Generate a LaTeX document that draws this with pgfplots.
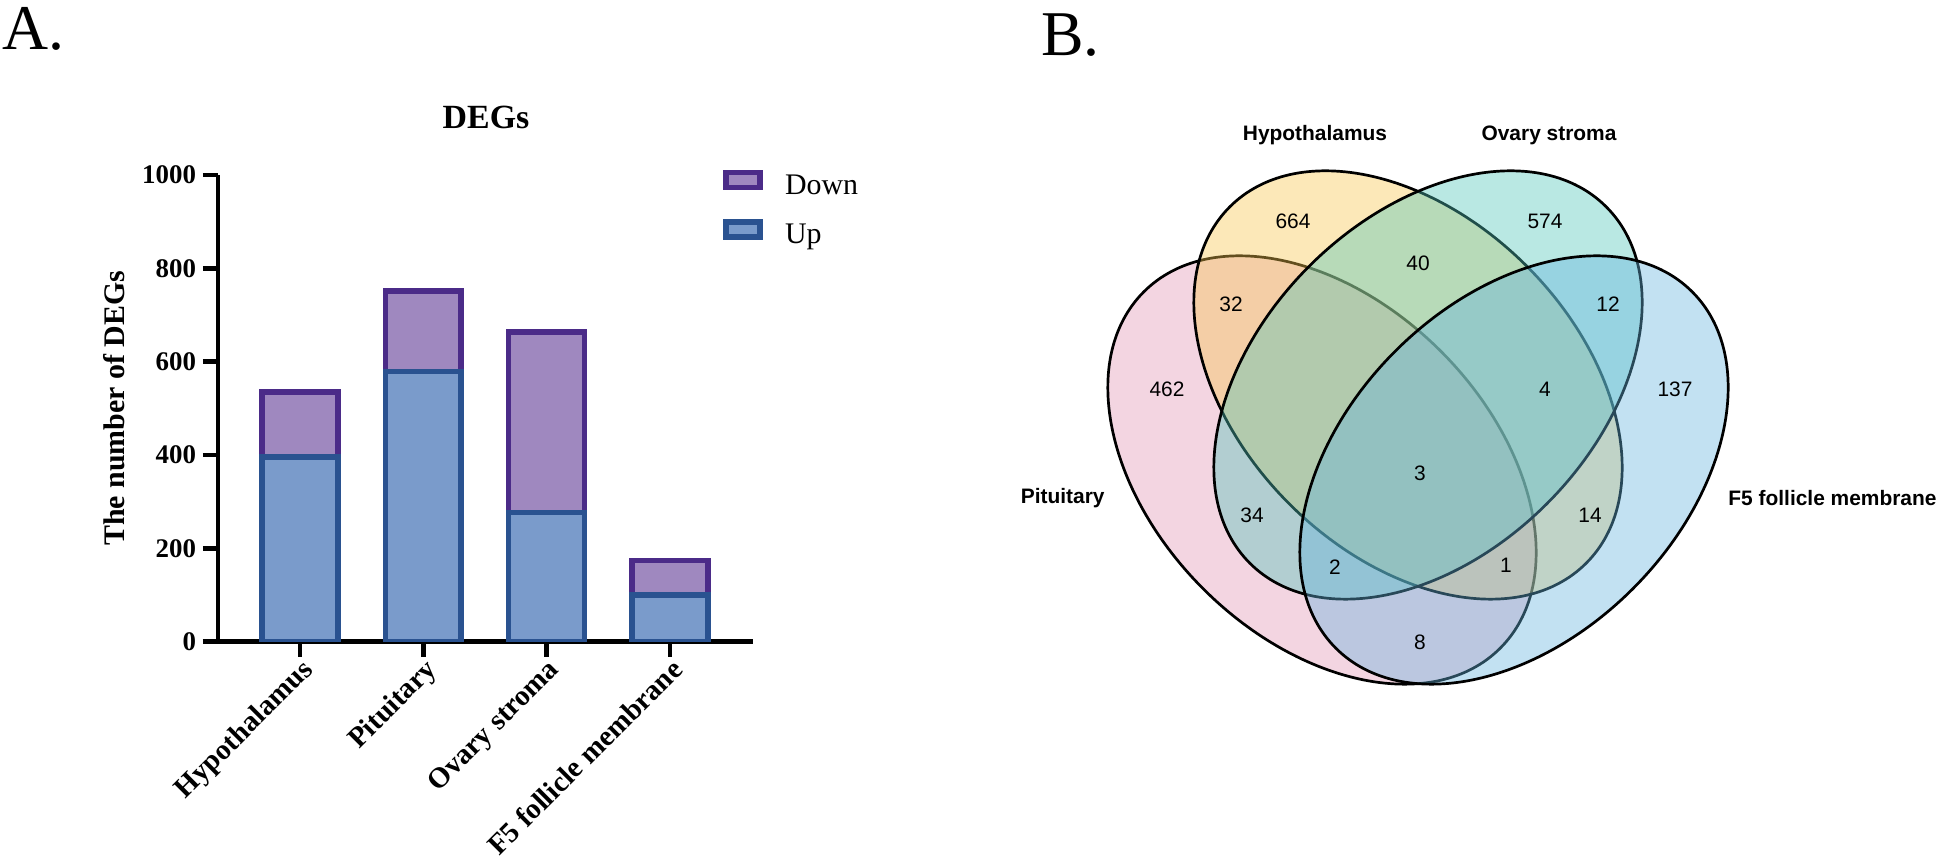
\documentclass[border=0pt]{standalone}
\usepackage{pgfplots}
\pgfplotsset{compat=1.18}
\usepackage{fontspec}
\setmainfont{Liberation Serif}
\newfontfamily\arial{Liberation Sans}
\definecolor{upfill}{HTML}{7A9BCB}
\definecolor{updraw}{HTML}{2A5290}
\definecolor{dnfill}{HTML}{9F88BF}
\definecolor{dndraw}{HTML}{4B2B88}
\definecolor{vpink}{RGB}{225,150,180}
\definecolor{vyellow}{RGB}{247,197,77}
\definecolor{vteal}{RGB}{80,197,185}
\definecolor{vblue}{RGB}{102,180,222}
\begin{document}
\begin{tikzpicture}
\path[use as bounding box] (0,0) rectangle (972bp,433bp);
\node[anchor=base west, inner sep=0pt, font=\fontsize{32}{38}\selectfont] at (1bp,408bp) {A.};
\node[anchor=base west, inner sep=0pt, font=\fontsize{32}{38}\selectfont] at (520.5bp,405bp) {B.};
\begin{axis}[
  at={(109bp,112.15bp)}, anchor=south west,
  width=267.5bp, height=233.35bp, scale only axis,
  xmin=-0.665, xmax=3.674, ymin=0, ymax=1000,
  axis x line*=bottom, axis y line*=left,
  axis line style={line width=2.35bp, black},
  x axis line style={shorten <=-7.5bp},
  tick align=outside, major tick length=7.5bp,
  every tick/.style={black, line width=2.35bp},
  xtick={0,1,2,3},
  xticklabels={Hypothalamus,Pituitary,Ovary stroma,F5 follicle membrane},
  ytick={0,200,400,600,800,1000},
  /pgf/number format/assume math mode=true,
  /pgf/number format/1000 sep={},
  yticklabel style={font=\fontsize{13.5}{16}\selectfont\bfseries},
  xticklabel style={font=\fontsize{14.5}{16}\selectfont\bfseries, rotate=45, anchor=north east, inner sep=0pt},
  ylabel={The number of DEGs},
  ylabel style={font=\fontsize{15}{18}\selectfont\bfseries, at={(axis description cs:-0.1935,0.5)}, anchor=center},
  title={DEGs},
  title style={font=\fontsize{17}{20}\selectfont\bfseries, at={(axis description cs:0.501,1)}, anchor=center, yshift=23bp},
  ybar, bar width=0.616,
  legend style={at={(axis description cs:0.944,1.012)}, anchor=north west, draw=none, fill=none, inner sep=0pt, row sep=9.5bp, column sep=11bp, font=\fontsize{15}{18}\selectfont, nodes={inner sep=0pt, text height=10bp, text depth=3bp}},
  legend cell align=left,
  legend image code/.code={\draw[#1, line width=2.8bp] (0bp,-0.25bp) rectangle (17bp,7.25bp);},
]
\addplot[bar shift=0pt, fill=dnfill, draw=dndraw, line width=2.8bp] coordinates {(0,535) (1,751) (2,664) (3,174)};
\addplot[bar shift=0pt, fill=upfill, draw=updraw, line width=2.8bp] coordinates {(0,396) (1,579) (2,277) (3,100)};
\legend{Down,Up}
\end{axis}
\begin{axis}[at={(500bp,0bp)}, anchor=south west, width=472bp, height=433bp, scale only axis,
  xmin=1000, xmax=1944, ymin=0, ymax=866, hide axis, clip=false]
\draw[fill=vpink, fill opacity=0.4, draw=black, line width=1.35bp] (axis cs:1322,396) ellipse [x radius=126bp, y radius=84bp, rotate=-45];
\draw[fill=vyellow, fill opacity=0.4, draw=black, line width=1.35bp] (axis cs:1408,481) ellipse [x radius=126bp, y radius=84bp, rotate=-45];
\draw[fill=vteal, fill opacity=0.4, draw=black, line width=1.35bp] (axis cs:1428,481) ellipse [x radius=126bp, y radius=84bp, rotate=45];
\draw[fill=vblue, fill opacity=0.4, draw=black, line width=1.35bp] (axis cs:1514,396) ellipse [x radius=126bp, y radius=84bp, rotate=45];
\begin{scope}[every node/.style={font=\arial\fontsize{10.5}{12}\selectfont, inner sep=0pt}]
\node at (axis cs:1293,645) {664};
\node at (axis cs:1545,645) {574};
\node at (axis cs:1418,603) {40};
\node at (axis cs:1231,562) {32};
\node at (axis cs:1608,562) {12};
\node at (axis cs:1167,477) {462};
\node at (axis cs:1545,477) {4};
\node at (axis cs:1675,477) {137};
\node at (axis cs:1420,393) {3};
\node at (axis cs:1252,351) {34};
\node at (axis cs:1590,351) {14};
\node at (axis cs:1335,299) {2};
\node at (axis cs:1506,301) {1};
\node at (axis cs:1420,224) {8};
\end{scope}
\begin{scope}[every node/.style={font=\arial\bfseries\fontsize{10.5}{12}\selectfont, inner sep=0pt}]
\node at (axis cs:1315,731) {Hypothalamus};
\node at (axis cs:1549,731) {Ovary stroma};
\node[anchor=east] at (axis cs:1105,368) {Pituitary};
\node[anchor=west] at (axis cs:1728,368) {F5 follicle membrane};
\end{scope}
\end{axis}
\end{tikzpicture}
\end{document}
